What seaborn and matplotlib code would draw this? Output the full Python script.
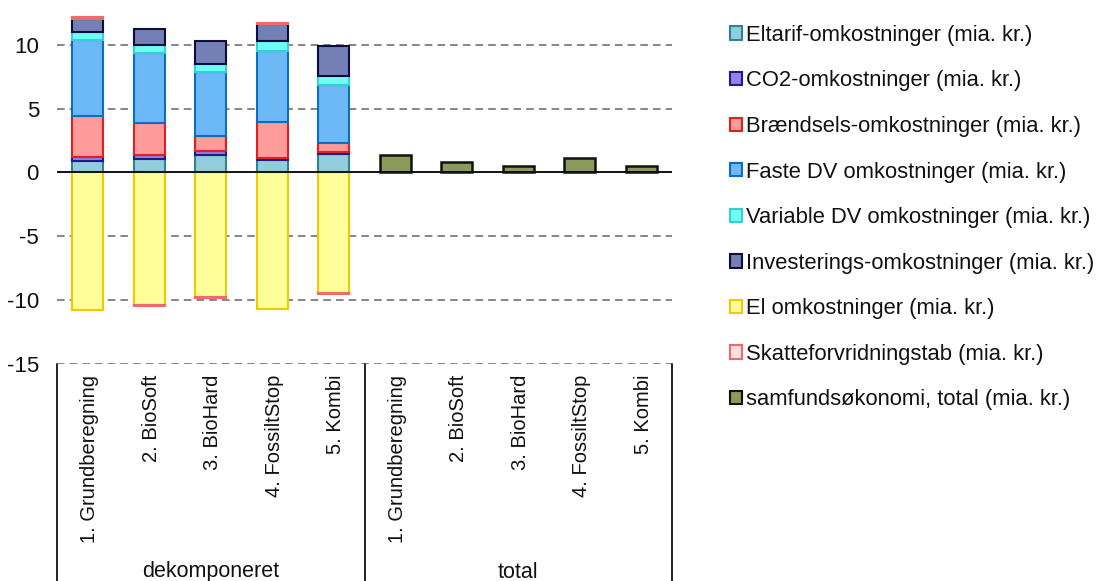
import numpy as np
import pandas as pd
import matplotlib
matplotlib.use("Agg")
import matplotlib.pyplot as plt
from matplotlib.patches import Patch
from matplotlib.lines import Line2D
import seaborn as sns

# Scenarios
scenarios = ["1. Grundberegning", "2. BioSoft", "3. BioHard", "4. FossiltStop", "5. Kombi"]
groups = ["dekomponeret", "total"]

# Decomposed cost components (mia. kr.)
eltarif = [0.91, 1.07, 1.38, 0.96, 1.43]
co2 = [0.31, 0.31, 0.31, 0.16, 0.19]
braendsel = [3.20, 2.49, 1.18, 2.82, 0.65]
faste_dv = [5.96, 5.46, 4.97, 5.57, 4.55]
variable_dv = [0.65, 0.67, 0.63, 0.76, 0.71]
investering = [0.99, 1.24, 1.80, 1.33, 2.38]
el = [-10.79, -10.37, -9.74, -10.66, -9.45]
skatteforvridning = [0.13, -0.10, -0.08, 0.13, -0.08]

# Net socio-economic result
samfund_total = [1.36, 0.81, 0.50, 1.10, 0.47]

labels = [
    "Eltarif-omkostninger (mia. kr.)",
    "CO2-omkostninger (mia. kr.)",
    "Brændsels-omkostninger (mia. kr.)",
    "Faste DV omkostninger (mia. kr.)",
    "Variable DV omkostninger (mia. kr.)",
    "Investerings-omkostninger (mia. kr.)",
    "El omkostninger (mia. kr.)",
    "Skatteforvridningstab (mia. kr.)",
    "samfundsøkonomi, total (mia. kr.)",
]
faces = ["#93CDDD", "#9B7FE8", "#FF9B9B", "#6DB8F7", "#6FFFF5", "#7480B5",
         "#FFFF99", "#FFE0E0", "#8A9A5B"]
edges = ["#2E8394", "#1C1C8C", "#E02020", "#0A6FC0", "#3ACFCF", "#0D0D3A",
         "#F2C800", "#F06A6A", "#111111"]

sns.set_theme(style="white")
plt.rcParams["font.family"] = ["Liberation Sans", "DejaVu Sans"]

W, H = 1098, 581
fig = plt.figure(figsize=(W / 100, H / 100), dpi=100)
ax = fig.add_axes([57 / W, 1 - 364 / H, 615 / W, 364 / H])

x_dec = np.arange(len(scenarios))
width = 0.5
series = [eltarif, co2, braendsel, faste_dv, variable_dv, investering, el, skatteforvridning]
pos_base = np.zeros(len(scenarios))
neg_base = np.zeros(len(scenarios))
for vals, fc, ec in zip(series, faces[:8], edges[:8]):
    vals = np.asarray(vals, dtype=float)
    bottoms = np.where(vals >= 0, pos_base, neg_base)
    ax.bar(x_dec, vals, width=width, bottom=bottoms, color=fc, edgecolor=ec,
           linewidth=1.5, zorder=3)
    pos_base = pos_base + np.where(vals >= 0, vals, 0)
    neg_base = neg_base + np.where(vals < 0, vals, 0)

# Totals drawn with seaborn on the numeric positions of the second group
tot_df = pd.DataFrame({"pos": np.arange(len(scenarios)) + len(scenarios),
                       "value": samfund_total})
sns.barplot(data=tot_df, x="pos", y="value", native_scale=True, width=width,
            color=faces[8], edgecolor=edges[8], linewidth=1.8, saturation=1,
            ax=ax, zorder=3)

ax.set_xlim(-0.5, 9.5)
ax.set_ylim(-15, 13.5)
ax.set_yticks([-15, -10, -5, 0, 5, 10])
ax.set_yticklabels(["-15", "-10", "-5", "0", "5", "10"], fontsize=16, color="#111111")
ax.tick_params(axis="y", length=0, pad=13)
ax.set_xticks([])
ax.set_xlabel("")
ax.set_ylabel("")
for sp in ax.spines.values():
    sp.set_visible(False)

for yv in [-15, -10, -5, 5, 10]:
    ax.axhline(yv, color="#666666", lw=1.1, ls=(0, (5, 3.3)), zorder=1)
ax.axhline(0, color="#111111", lw=1.4, zorder=4)

# Category table beneath the plot
trans = ax.get_xaxis_transform()
px = 1 / 364
for xv in [-0.5, 4.5, 9.5]:
    ax.add_line(Line2D([xv, xv], [0, -230 * px], transform=trans, color="#222222",
                       lw=1.4, clip_on=False))
all_labels = scenarios + scenarios
for i, lab in enumerate(all_labels):
    ax.text(i + 0.03, -11 * px, lab, transform=trans, rotation=90, ha="center", va="top",
            fontsize=14.5, color="#111111")
for gi, g in enumerate(groups):
    ax.text(2 + 5 * gi, -208 * px, g, transform=trans, ha="center", va="center",
            fontsize=15.5, color="#111111")

handles = [Patch(facecolor=f, edgecolor=e, linewidth=1.5) for f, e in zip(faces, edges)]
fig.legend(handles, labels, loc="upper left", bbox_to_anchor=(721 / W, 1 - 16 / H),
           frameon=False, fontsize=15.8, handlelength=0.55, handleheight=0.55,
           handletextpad=0.2, labelspacing=1.12, borderaxespad=0,
           labelcolor="#111111")

fig.savefig("out.png", dpi=100)
